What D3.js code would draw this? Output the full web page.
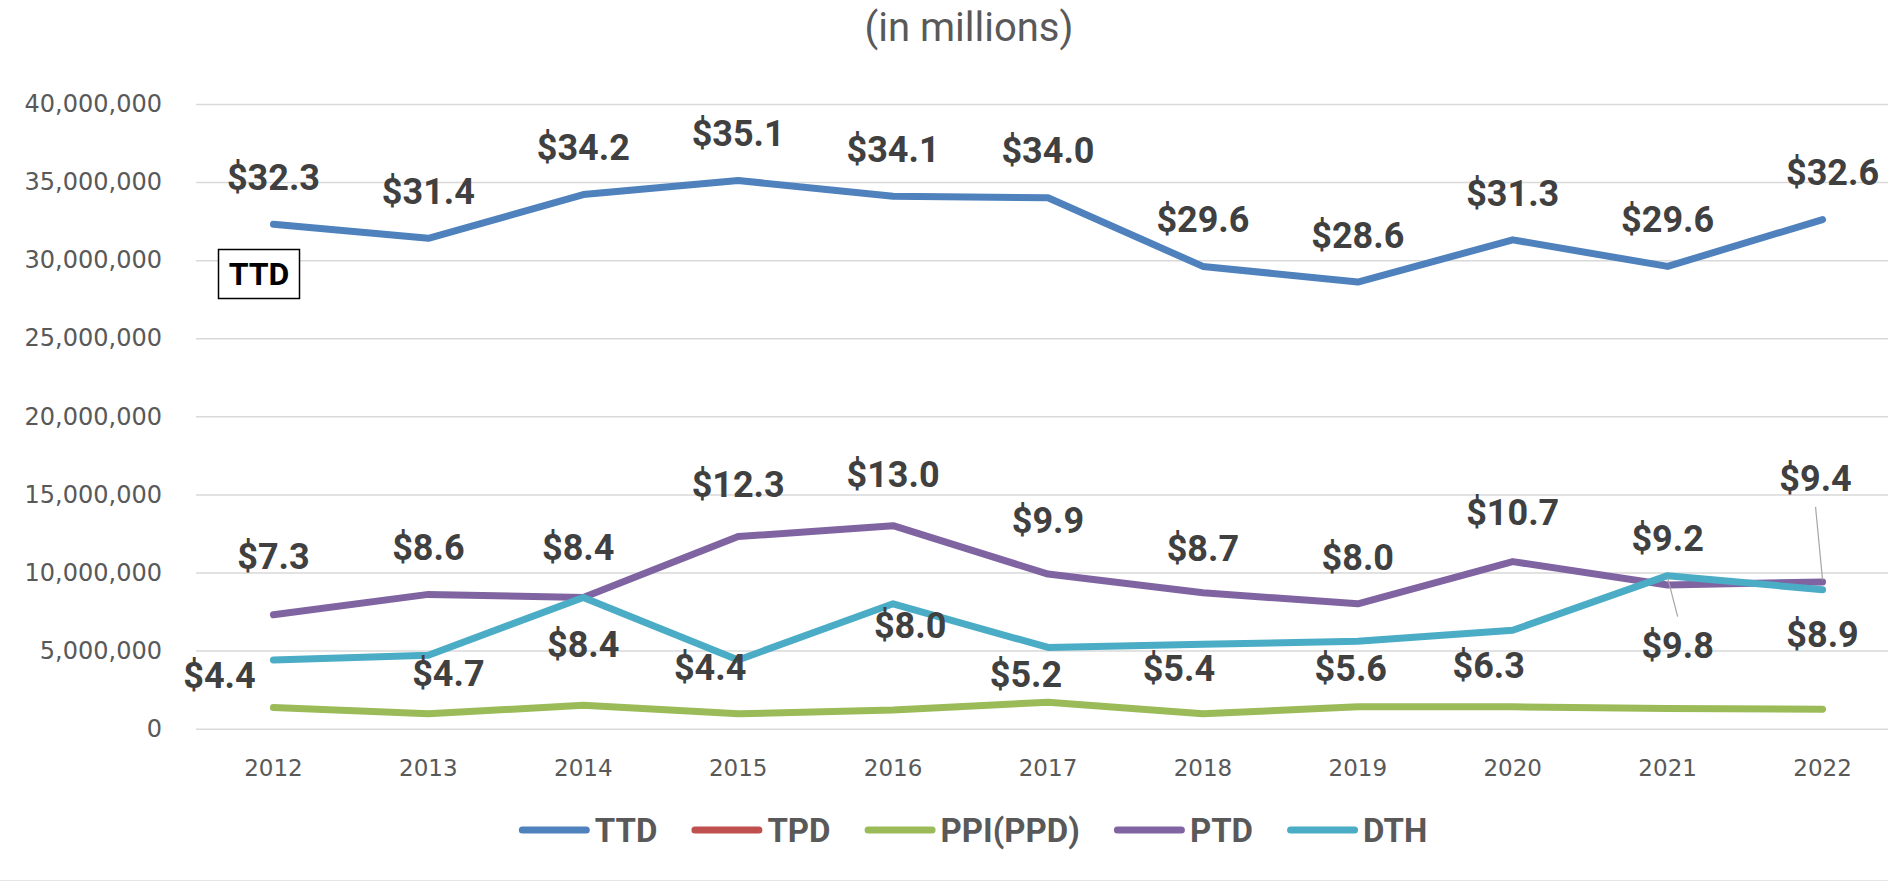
<!DOCTYPE html>
<html>
<head>
<meta charset="utf-8">
<script src="https://cdn.jsdelivr.net/npm/d3@7"></script>
<style>
  html, body { margin: 0; padding: 0; background: #ffffff; }
  svg { display: block; }
</style>
</head>
<body>
<svg id="chart" width="1888" height="884"></svg>
<script>
// ---------------- DATA (values in millions of dollars) ----------------
const years = ["2012", "2013", "2014", "2015", "2016", "2017", "2018", "2019", "2020", "2021", "2022"];
const ttdValues = [32.3, 31.4, 34.2, 35.1, 34.1, 34.0, 29.6, 28.6, 31.3, 29.6, 32.6];
const tpdValues = [null, null, null, null, null, null, null, null, null, null, null];
const ppdValues = [1.35, 0.95, 1.5, 0.95, 1.2, 1.7, 0.95, 1.4, 1.4, 1.3, 1.25];
const ptdValues = [7.3, 8.6, 8.4, 12.3, 13.0, 9.9, 8.7, 8.0, 10.7, 9.2, 9.4];
const dthValues = [4.4, 4.7, 8.4, 4.4, 8.0, 5.2, 5.4, 5.6, 6.3, 9.8, 8.9];
const seriesNames = ["TTD", "TPD", "PPI(PPD)", "PTD", "DTH"];
const yTicks = [0, 5, 10, 15, 20, 25, 30, 35, 40];
const titleText = "(in millions)";
const annotationText = "TTD";

// ---------------- LAYOUT / STYLE ----------------
const colors = { "TTD": "#4F81BD", "TPD": "#C0504D", "PPI(PPD)": "#9BBB59", "PTD": "#8064A2", "DTH": "#4BACC6" };
// label offsets (px) of label centre from the point
const ttdLabelPos = years.map((y, i) => ({ dx: i === 10 ? 10 : 0, dy: -47 }));
const ptdLabelPos = [
  { dx: 0, dy: -58 }, { dx: 0, dy: -47 }, { dx: -5, dy: -50 }, { dx: 0, dy: -52 },
  { dx: 0, dy: -51 }, { dx: 0, dy: -54 }, { dx: 0, dy: -45 }, { dx: 0, dy: -47 },
  { dx: 0, dy: -49 }, { dx: 0, dy: -47 }, { dx: -7, dy: -104, leader: true }
];
const dthLabelPos = [
  { dx: -54, dy: 15 }, { dx: 20, dy: 18 }, { dx: 0, dy: 47 }, { dx: -28, dy: 7 },
  { dx: 17, dy: 21 }, { dx: -22, dy: 27 }, { dx: -24, dy: 24 }, { dx: -7, dy: 27 },
  { dx: -24, dy: 35 }, { dx: 10, dy: 70, leader: true }, { dx: 0, dy: 45 }
];

const svg = d3.select("#chart");
const W = 1888, H = 884;

const x = d3.scaleBand().domain(years).range([196, 1900]).padding(0);
const xc = d => x(d) + x.bandwidth() / 2;
const y = d3.scaleLinear().domain([0, 40]).range([728.7, 104]);

// title
svg.append("text")
  .attr("x", 969).attr("y", 41)
  .attr("text-anchor", "middle")
  .attr("font-family", "Roboto, 'Open Sans', sans-serif")
  .attr("font-size", 40)
  .attr("fill", "#595959")
  .text(titleText);

// gridlines + y axis labels
const yAxis = d3.axisLeft(y)
  .tickValues(yTicks)
  .tickSize(-(x.range()[1] - x.range()[0]))
  .tickPadding(34)
  .tickFormat(d => d3.format(",")(d * 1e6));
const gy = svg.append("g").attr("transform", `translate(${x.range()[0]},0)`).call(yAxis);
gy.select(".domain").remove();
gy.selectAll(".tick line").attr("stroke", "#d9d9d9").attr("stroke-width", 1.5);
gy.selectAll(".tick text")
  .attr("font-family", "'DejaVu Sans', Verdana, sans-serif")
  .attr("font-size", 24)
  .attr("fill", "#595959");

// x axis labels
const xAxis = d3.axisBottom(x).tickSize(0).tickPadding(0);
const gx = svg.append("g").attr("transform", `translate(0,${y(0)})`).call(xAxis);
gx.select(".domain").remove();
gx.selectAll(".tick text")
  .attr("dy", null)
  .attr("y", 47)
  .attr("font-family", "'DejaVu Sans', Verdana, sans-serif")
  .attr("font-size", 23)
  .attr("fill", "#595959");

// lines
const series = [
  { name: "TTD", values: ttdValues },
  { name: "TPD", values: tpdValues },
  { name: "PPI(PPD)", values: ppdValues },
  { name: "PTD", values: ptdValues },
  { name: "DTH", values: dthValues }
];
const line = d3.line()
  .defined(d => d.v !== null)
  .x(d => xc(d.year))
  .y(d => y(d.v));
series.forEach(s => {
  const pts = years.map((yr, i) => ({ year: yr, v: s.values[i] }));
  svg.append("path")
    .datum(pts)
    .attr("d", line)
    .attr("fill", "none")
    .attr("stroke", colors[s.name])
    .attr("stroke-width", 7)
    .attr("stroke-linecap", "round")
    .attr("stroke-linejoin", "round");
});

// data labels
const labelFont = "Roboto, 'Open Sans', sans-serif";
const labelSize = 36;
function drawLabels(values, pos) {
  const g = svg.append("g");
  values.forEach((v, i) => {
    const px = xc(years[i]), py = y(v);
    const p = pos[i];
    const lx = px + p.dx, ly = py + p.dy;
    if (p.leader) {
      const dir = p.dy > 0 ? -1 : 1;
      g.append("line")
        .attr("x1", px).attr("y1", py + (p.dy > 0 ? 2 : -2))
        .attr("x2", lx).attr("y2", ly + dir * 29)
        .attr("stroke", "#a6a6a6").attr("stroke-width", 1.2);
    }
    g.append("text")
      .attr("x", lx).attr("y", ly + labelSize * 0.355)
      .attr("text-anchor", "middle")
      .attr("font-family", labelFont)
      .attr("font-weight", "bold")
      .attr("font-size", labelSize)
      .attr("fill", "#404040")
      .text("$" + d3.format(".1f")(v));
  });
}
drawLabels(ttdValues, ttdLabelPos);
drawLabels(ptdValues, ptdLabelPos);
drawLabels(dthValues, dthLabelPos);

// TTD annotation box
const ann = svg.append("g");
ann.append("rect")
  .attr("x", 218.5).attr("y", 249.5).attr("width", 81).attr("height", 49)
  .attr("fill", "#ffffff").attr("stroke", "#000000").attr("stroke-width", 1.5);
ann.append("text")
  .attr("x", 259).attr("y", 274 + 32 * 0.355)
  .attr("text-anchor", "middle")
  .attr("font-family", labelFont).attr("font-weight", "bold").attr("font-size", 32)
  .attr("fill", "#000000")
  .text(annotationText);

// legend
const legend = svg.append("g");
const legendY = 830;
let cursor = 0;
seriesNames.forEach((name, i) => {
  const g = legend.append("g");
  g.append("line")
    .attr("x1", cursor + 3.5).attr("x2", cursor + 71 - 3.5)
    .attr("y1", legendY).attr("y2", legendY)
    .attr("stroke", colors[name]).attr("stroke-width", 7).attr("stroke-linecap", "round");
  const t = g.append("text")
    .attr("x", cursor + 76).attr("y", legendY + 34 * 0.355)
    .attr("font-family", labelFont).attr("font-weight", "bold").attr("font-size", 33)
    .attr("fill", "#595959")
    .text(name);
  const w = t.node().getComputedTextLength();
  cursor += 76 + w + 34;
});
const legendWidth = cursor - 34;
legend.attr("transform", `translate(${973 - legendWidth / 2},0)`);

// bottom border
svg.append("line")
  .attr("x1", 0).attr("x2", W).attr("y1", 880.5).attr("y2", 880.5)
  .attr("stroke", "#e6e6e6").attr("stroke-width", 1);
</script>
</body>
</html>
